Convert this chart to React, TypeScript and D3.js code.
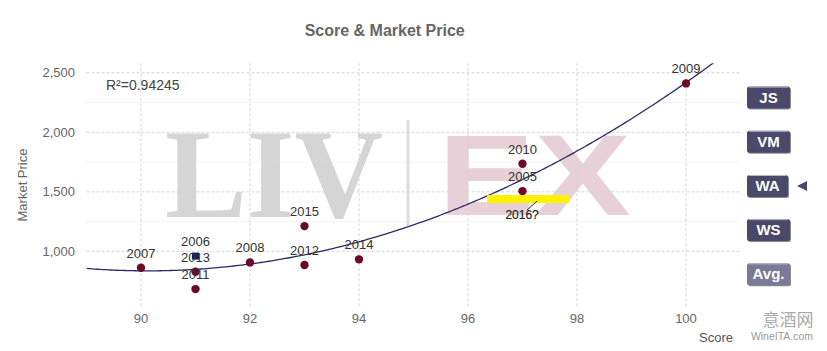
import React from "react";
import * as d3 from "d3";

// ---- data ----
const years = ["2007", "2006", "2013", "2011", "2008", "2015", "2012", "2014", "2010", "2005", "2009"];
const scores = [90, 91, 91, 91, 92, 93, 93, 94, 97, 97, 100];
const prices = [862, 960, 829, 683, 907, 1212, 885, 933, 1736, 1506, 2411];
const highlightedYear = "2006";
const xTicks = [90, 92, 94, 96, 98, 100];
const yTicksMajor = [1000, 1500, 2000, 2500];
const yTicksMinor = [1250, 1750, 2250];
const rSquaredLabel = "R²=0.94245";
const annotationLabel = "2016?";
const annotationScoreRange = [96.35, 97.85];
const annotationPrice = 1440;
const buttonLabels = ["JS", "VM", "WA", "WS", "Avg."];
const selectedButton = "WA";

const W = 827;
const H = 351;
const FONT = "'Liberation Sans', Arial, Helvetica, sans-serif";

// quadratic least-squares trend from the data points
function quadFit(xs: number[], ys: number[]) {
  const x0 = 90;
  let s0 = 0, s1 = 0, s2 = 0, s3 = 0, s4 = 0, t0 = 0, t1 = 0, t2 = 0;
  xs.forEach((xv, i) => {
    const u = xv - x0;
    const y = ys[i];
    s0 += 1; s1 += u; s2 += u * u; s3 += u * u * u; s4 += u * u * u * u;
    t0 += y; t1 += u * y; t2 += u * u * y;
  });
  const M = [
    [s0, s1, s2, t0],
    [s1, s2, s3, t1],
    [s2, s3, s4, t2],
  ];
  for (let i = 0; i < 3; i++) {
    for (let j = i + 1; j < 3; j++) {
      const f = M[j][i] / M[i][i];
      for (let k = i; k < 4; k++) M[j][k] -= f * M[i][k];
    }
  }
  const c = M[2][3] / M[2][2];
  const b = (M[1][3] - M[1][2] * c) / M[1][1];
  const a = (M[0][3] - M[0][1] * b - M[0][2] * c) / M[0][0];
  return (xv: number) => a + b * (xv - x0) + c * (xv - x0) * (xv - x0);
}

export default function App() {
  const x = d3.scaleLinear().domain([89, 101]).range([86.5, 740.5]);
  const y = d3.scaleLinear().domain([535, 2580]).range([306.7, 63.3]);
  const [x0, x1] = x.range();
  const [yb, yt] = y.range();

  const fit = quadFit(scores, prices);
  const curvePts = d3.range(89, 101.001, 0.05).map((s) => [s, fit(s)] as [number, number]);
  const line = d3
    .line<[number, number]>()
    .x((d) => x(d[0]))
    .y((d) => y(d[1]))
    .curve(d3.curveLinear);

  const fmt = d3.format(",");

  return (
    <svg width={W} height={H} style={{ position: "absolute", left: 0, top: 0, background: "#fff" }}>
      <defs>
        <clipPath id="plot">
          <rect x={x0} y={yt} width={x1 - x0} height={yb - yt} />
        </clipPath>
      </defs>
      <rect width={W} height={H} fill="#fff" />

      {/* LIV-EX watermark */}
      <g>
        <text
          x={165}
          y={216.7}
          fontFamily="'Liberation Serif', 'Times New Roman', serif"
          fontWeight="bold"
          fontSize={128}
          fill="#d5d5d5"
          textLength={218}
          lengthAdjust="spacingAndGlyphs"
        >
          LIV
        </text>
        <line x1={408} x2={408} y1={120} y2={228} stroke="#dcdce6" strokeWidth={3} />
        <text
          x={438}
          y={215}
          fontFamily={FONT}
          fontWeight="bold"
          fontSize={115}
          fill="#e7d0d7"
          textLength={193}
          lengthAdjust="spacingAndGlyphs"
        >
          EX
        </text>
      </g>

      {/* grid */}
      {yTicksMinor.map((t) => (
        <line key={"mn" + t} x1={x0} x2={x1} y1={y(t)} y2={y(t)} stroke="#dcdcdc" strokeWidth={1} strokeDasharray="1,2" />
      ))}
      {yTicksMajor.map((t) => (
        <line key={"mj" + t} x1={x0} x2={x1} y1={y(t)} y2={y(t)} stroke="#d4d4d4" strokeWidth={1} strokeDasharray="3,2" />
      ))}
      {xTicks.map((t) => (
        <line key={"vx" + t} x1={x(t)} x2={x(t)} y1={yt} y2={yb} stroke="#d4d4d4" strokeWidth={1} strokeDasharray="3,2" />
      ))}

      {/* axis labels */}
      {yTicksMajor.map((t) => (
        <text key={"yl" + t} x={75} y={y(t) + 4.5} textAnchor="end" fontFamily={FONT} fontSize={13} fill="#666">
          {fmt(t)}
        </text>
      ))}
      {xTicks.map((t) => (
        <text key={"xl" + t} x={x(t)} y={323} textAnchor="middle" fontFamily={FONT} fontSize={13} fill="#666">
          {t}
        </text>
      ))}
      <text
        transform={`translate(27,${(yt + yb) / 2}) rotate(-90)`}
        textAnchor="middle"
        fontFamily={FONT}
        fontSize={13}
        fill="#666"
      >
        Market Price
      </text>
      <text x={733} y={342} textAnchor="end" fontFamily={FONT} fontSize={13} fill="#555">
        Score
      </text>

      {/* title */}
      <text x={384.7} y={35.5} textAnchor="middle" fontFamily={FONT} fontSize={16} fontWeight="bold" fill="#666">
        Score &amp; Market Price
      </text>

      {/* R squared */}
      <text x={106} y={90} fontFamily={FONT} fontSize={14} fill="#444">
        {rSquaredLabel}
      </text>

      {/* trend line */}
      <path d={line(curvePts) || ""} fill="none" stroke="#2b2a66" strokeWidth={1.3} clipPath="url(#plot)" />

      {/* annotation */}
      <rect
        x={x(annotationScoreRange[0])}
        y={y(annotationPrice) - 4}
        width={x(annotationScoreRange[1]) - x(annotationScoreRange[0])}
        height={8}
        fill="#fff200"
      />
      <line
        x1={x(annotationScoreRange[0]) + 50}
        y1={y(annotationPrice) + 2}
        x2={x(annotationScoreRange[0]) + 40}
        y2={y(annotationPrice) + 11}
        stroke="#222"
        strokeWidth={1}
      />
      <text
        x={x(annotationScoreRange[0]) + 35}
        y={y(annotationPrice) + 20}
        textAnchor="middle"
        fontFamily={FONT}
        fontSize={12}
        fill="#222"
        stroke="#222"
        strokeWidth={0.2}
      >
        {annotationLabel}
      </text>

      {/* points */}
      {years.map((yr, i) =>
        yr === highlightedYear ? (
          <rect key={"p" + yr} x={x(scores[i]) - 3.5} y={y(prices[i]) - 3.5} width={7} height={7} fill="#1c1c5c" />
        ) : (
          <circle key={"p" + yr} cx={x(scores[i])} cy={y(prices[i])} r={4.2} fill="#6b0a26" />
        )
      )}
      {years.map((yr, i) => (
        <text
          key={"l" + yr}
          x={x(scores[i])}
          y={y(prices[i]) - 10}
          textAnchor="middle"
          fontFamily={FONT}
          fontSize={13}
          fill="#333"
        >
          {yr}
        </text>
      ))}

      {/* buttons */}
      {buttonLabels.map((b, i) => {
        const by = 86.5 + i * 44.2;
        const isSel = b === selectedButton;
        const isAvg = b === "Avg.";
        const bw = isSel ? 41 : 43;
        const fill = isAvg ? "#7b7a96" : "#4a4969";
        return (
          <g key={"b" + b}>
            <rect x={748} y={by + 1} width={bw} height={22} rx={2.5} fill="#2c2b40" opacity={0.55} />
            <rect x={747} y={by} width={bw} height={22} rx={2.5} fill={fill} />
            <line x1={749} x2={747 + bw - 2} y1={by + 0.6} y2={by + 0.6} stroke="#b9b8cc" strokeWidth={1} />
            <text
              x={747 + bw / 2}
              y={by + 16}
              textAnchor="middle"
              fontFamily={FONT}
              fontWeight="bold"
              fontSize={15}
              fill="#fff"
            >
              {b}
            </text>
            {isSel && (
              <path d={`M797,${by + 11} L807,${by + 6} L807,${by + 16} Z`} fill="#4a4969" />
            )}
          </g>
        );
      })}

      {/* site watermark */}
      <text x={788} y={326} textAnchor="middle" fontFamily="'Noto Sans CJK SC', sans-serif" fontSize={17} fill="#aaa">
        意酒网
      </text>
      <text x={782} y={340} textAnchor="middle" fontFamily={FONT} fontSize={10.5} fill="#999">
        WineITA.com
      </text>
    </svg>
  );
}
